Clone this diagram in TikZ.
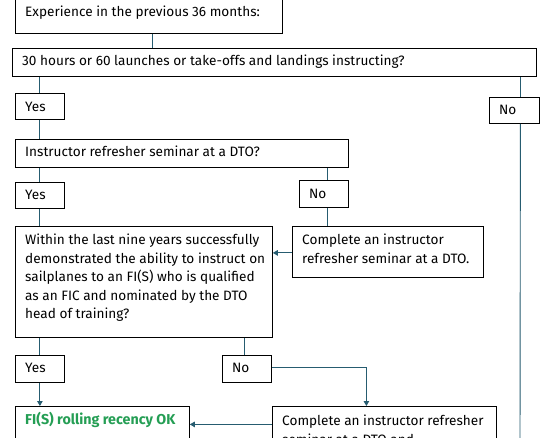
\documentclass[tikz,border=0pt]{standalone}
\usepackage{fontspec}
\setmainfont{Fira Sans}
\usetikzlibrary{arrows.meta}
\definecolor{conncol}{RGB}{38,92,112}
\definecolor{okgreen}{RGB}{36,158,84}
\newcommand\mlines[1]{\parbox[t]{300pt}{\baselineskip=18.6pt #1}}
\begin{document}
\begin{tikzpicture}[x=1pt,y=-1pt,
  box/.style={draw=black, line width=0.8pt, inner sep=0pt, anchor=north west},
  txt/.style={anchor=base west, inner sep=0pt, font=\fontsize{13.6}{18.6}\selectfont},
  conn/.style={draw=conncol, line width=0.9pt},
  arr/.style={conn, -{Triangle[length=5pt,width=5.5pt]}}]
\useasboundingbox (0,0) rectangle (546,437);
\clip (0,0) rectangle (546,437);
\fill[white] (0,0) rectangle (546,437);
% boxes
\node[box, minimum width=267pt, minimum height=40pt] (b1) at (15,-7) {};
\node[box, minimum width=524pt, minimum height=28pt] (b2) at (12,48) {};
\node[box, minimum width=49pt, minimum height=26pt] (y1) at (15,93) {};
\node[box, minimum width=50pt, minimum height=26pt] (n1) at (489,97) {};
\node[box, minimum width=333pt, minimum height=28pt] (b3) at (15,139) {};
\node[box, minimum width=49pt, minimum height=26pt] (y2) at (15,182) {};
\node[box, minimum width=49pt, minimum height=27pt] (n2) at (299,180) {};
\node[box, minimum width=257pt, minimum height=111pt] (b4) at (15,226) {};
\node[box, minimum width=191pt, minimum height=51pt] (b5) at (292,226) {};
\node[box, minimum width=49pt, minimum height=27pt] (y3) at (15,355) {};
\node[box, minimum width=49pt, minimum height=27pt] (n3) at (222,355) {};
\node[box, minimum width=174pt, minimum height=50pt] (b6) at (15,406) {};
\node[box, minimum width=224pt, minimum height=50pt] (b7) at (272,406) {};
\coordinate (nend) at (520,450);
% texts
\node[txt] (t1) at (25,16.5) {Experience in the previous 36 months:};
\node[txt] (t2) at (22,65) {30 hours or 60 launches or take-offs and landings instructing?};
\node[txt] (ty1) at (25,111.5) {Yes};
\node[txt] (tn1) at (499,114.5) {No};
\node[txt] (t3) at (25,156.5) {Instructor refresher seminar at a DTO?};
\node[txt] (ty2) at (25,199.5) {Yes};
\node[txt] (tn2) at (309,198) {No};
\node[txt] (t4) at (25,244.5) {\mlines{Within the last nine years successfully\\demonstrated the ability to instruct on\\sailplanes to an FI(S) who is qualified\\as an FIC and nominated by the DTO\\head of training?}};
\node[txt] (t5) at (302,244.5) {\mlines{Complete an instructor\\refresher seminar at a DTO.}};
\node[txt] (ty3) at (25,372.5) {Yes};
\node[txt] (tn3) at (232,372.5) {No};
\node[txt, text=okgreen, font=\fontsize{14.3}{18.6}\selectfont\bfseries] (t6) at (25,424.5) {FI(S) rolling recency OK};
\node[txt] (t7) at (282,425.5) {\mlines{Complete an instructor refresher\\seminar at a DTO and}};
% connectors
\draw[conn] ([xshift=3.5pt]b1.south) -- ([xshift=3.5pt]b1.south |- b2.north);
\draw[conn] (y1.north |- b2.south) -- (y1.north);
\draw[conn] (y1.south) -- (y1.south |- b3.north);
\draw[conn] ([xshift=6pt]n1.north |- b2.south) -- ([xshift=6pt]n1.north);
\draw[conn] ([xshift=6pt]n1.south) -- (nend);
\draw[conn] (y2.north |- b3.south) -- (y2.north);
\draw[conn] (y2.south) -- (y2.south |- b4.north);
\draw[conn] ([xshift=3.5pt]n2.north |- b3.south) -- ([xshift=3.5pt]n2.north);
\draw[conn] ([xshift=3.5pt]n2.south) -- ([xshift=3.5pt]n2.south |- b5.north);
\draw[arr] ([yshift=-1pt]b5.west) -- ([yshift=-1pt]b5.west -| b4.east);
\draw[conn] ([xshift=-2pt]n3.north |- b4.south) -- ([xshift=-2pt]n3.north);
\draw[conn] (y3.north |- b4.south) -- (y3.north);
\draw[arr] (y3.south) -- (y3.south |- b6.north);
\draw[arr] ([yshift=1.5pt]n3.east) -| ([xshift=-18pt]b7.north);
\draw[arr] ([yshift=7pt]b7.west) -- ([yshift=7pt]b7.west -| b6.east);
\end{tikzpicture}
\end{document}
